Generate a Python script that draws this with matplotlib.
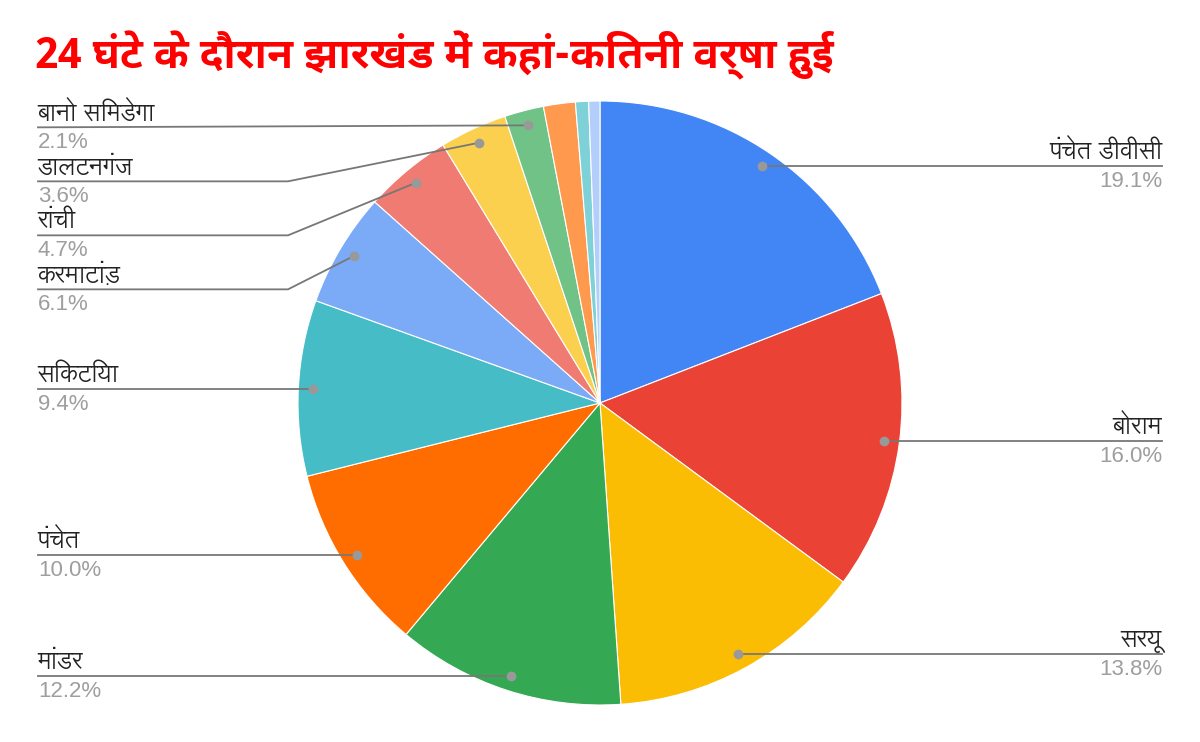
import matplotlib
matplotlib.use("Agg")
import matplotlib.pyplot as plt
import numpy as np

# Data (percent of total rainfall)
labels = ['पंचेत डीवीसी', 'बोराम', 'सरयू', 'मांडर', 'पंचेत', 'सिकटिया',
          'करमाटांड़', 'रांची', 'डालटनगंज', 'बानो सिमडेगा', '', '', '']
values = [19.1, 16.0, 13.8, 12.2, 10.0, 9.4, 6.1, 4.7, 3.6, 2.1, 1.7, 0.7, 0.6]
colors = ['#4285F4', '#EA4335', '#FBBC04', '#34A853', '#FF6D01', '#46BDC6',
          '#7BAAF7', '#F07B72', '#FCD04F', '#71C287', '#FF994D', '#7ED1D7', '#B3CEFB']
title = '24 घंटे के दौरान झारखंड में कहां-कितनी वर्षा हुई'

title_font = ['Noto Sans Devanagari UI', 'DejaVu Sans']
label_font = ['Lohit Devanagari', 'Noto Sans Devanagari UI', 'DejaVu Sans']
plt.rcParams['font.family'] = ['Liberation Sans', 'DejaVu Sans']

W, H = 1200, 742
fig = plt.figure(figsize=(12, 7.42), dpi=100)
ax = fig.add_axes([0, 0, 1, 1])

cx, cy, R = 600, H - 403, 302
wedges, _ = ax.pie(values, colors=colors, center=(cx, cy), radius=R,
                   startangle=90, counterclock=False,
                   wedgeprops=dict(edgecolor='white', linewidth=0.8))
ax.set_xlim(0, W)
ax.set_ylim(0, H)
ax.set_aspect('equal')
ax.axis('off')

ax.text(35, H - 55, title, color='#FF0000', fontsize=30.5, fontweight='bold',
        va='center', ha='left', family=title_font)

# label placement
total = sum(values)
cum = 0
left_items = []
for lab, v in zip(labels, values):
    mid = (cum + v / 2) / total * 360
    cum += v
    if not lab:
        continue
    a = np.radians(90 - mid)
    px, py = cx + 0.95 * R * np.cos(a), cy + 0.95 * R * np.sin(a)
    pct = f'{v / total * 100:.1f}%'
    if px > cx:
        ax.plot([px, 1162], [py, py], color='#777777', lw=1.3, zorder=3)
        ax.text(1162, py + 7, lab, ha='right', va='baseline', fontsize=17.5,
                color='#222222', family=label_font)
        ax.text(1162, py - 5, pct, ha='right', va='top', fontsize=16, color='#9e9e9e')
        ax.plot(px, py, 'o', color='#999999', ms=6, zorder=4)
    else:
        left_items.append((lab, pct, px, py))

# left labels go top-down, pushed apart if crowded
left_items.sort(key=lambda t: -t[3])
ly_prev = None
for lab, pct, px, py in left_items:
    ly = py - 2 if ly_prev is None else min(py, ly_prev - 54)
    ly_prev = ly
    if abs(ly - py) < 3:
        ax.plot([38, px], [ly, py], color='#777777', lw=1.3, zorder=3)
    else:
        ax.plot([38, 288, px], [ly, ly, py], color='#777777', lw=1.3, zorder=3)
    ax.plot(px, py, 'o', color='#999999', ms=6, zorder=4)
    ax.text(37, ly + 7, lab, ha='left', va='baseline', fontsize=17.5,
            color='#222222', family=label_font)
    ax.text(38, ly - 5, pct, ha='left', va='top', fontsize=16, color='#9e9e9e')

fig.savefig('out.png', dpi=100)
